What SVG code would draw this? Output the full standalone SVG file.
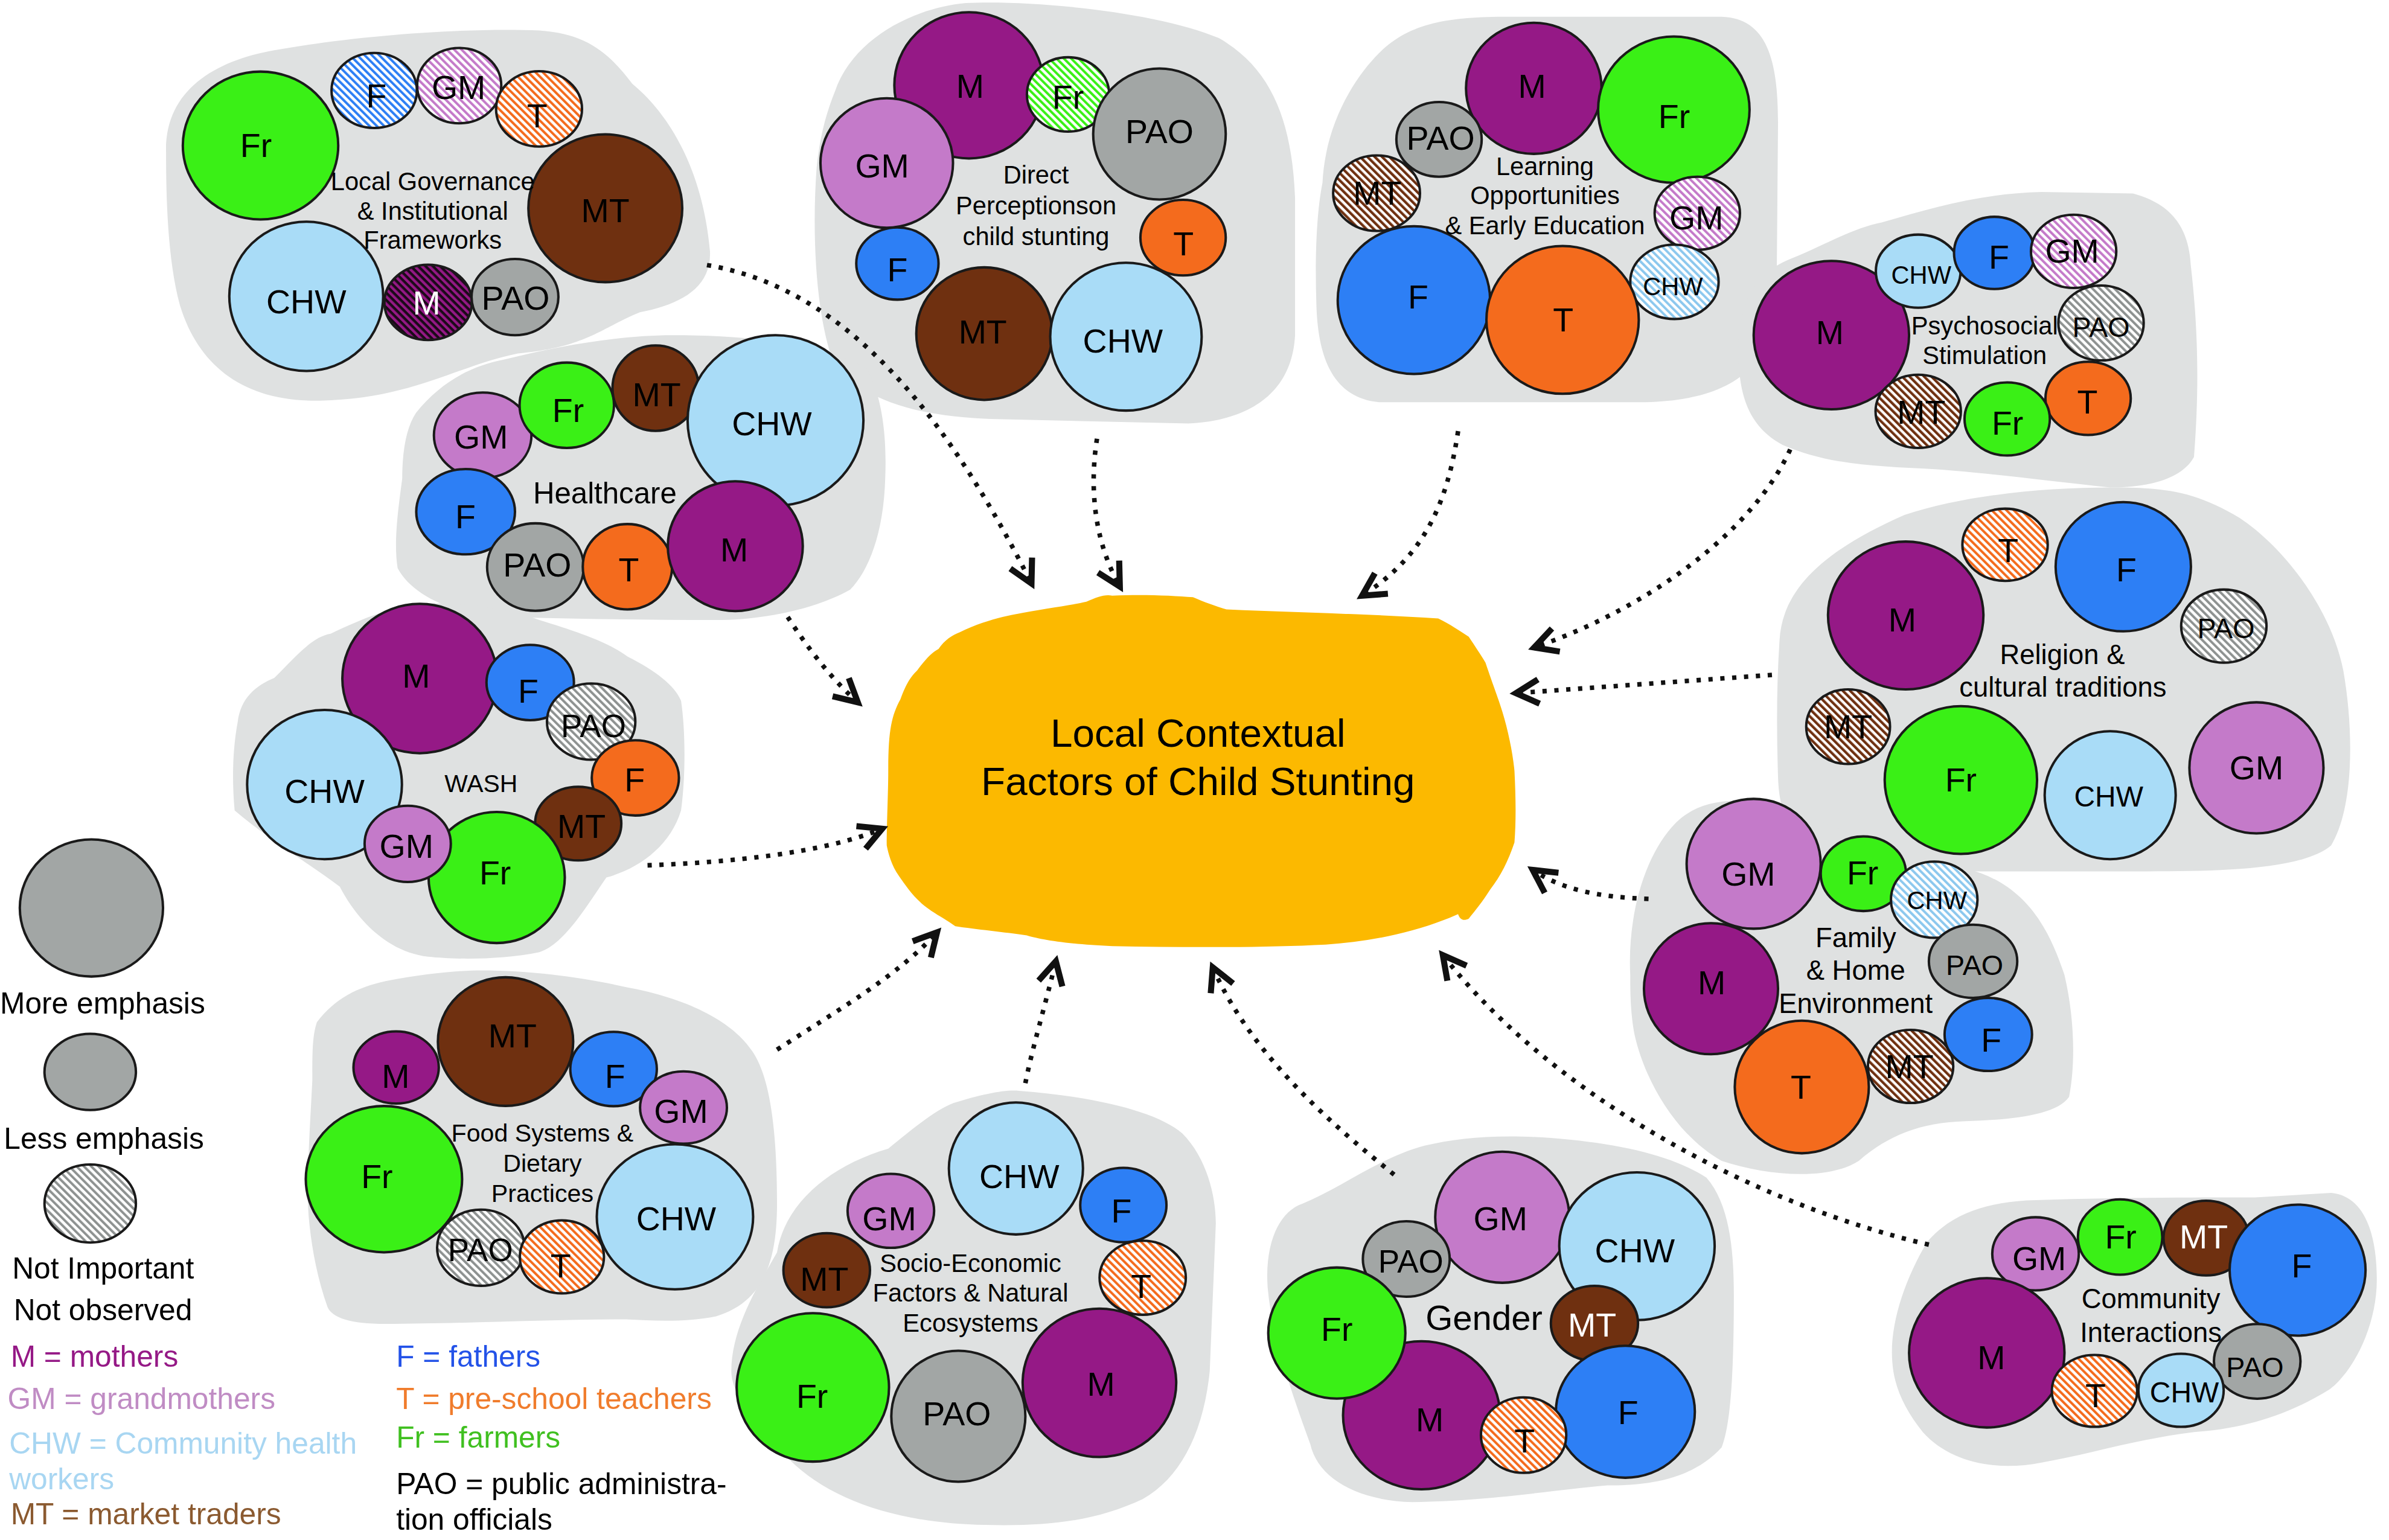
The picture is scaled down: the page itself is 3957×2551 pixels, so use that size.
<svg xmlns="http://www.w3.org/2000/svg" width="3957" height="2551" viewBox="0 0 3957 2551">
<defs>
<style>
.blob{fill:#dfe1e1}
.c{stroke:#1a1a1a;stroke-width:1.6}
.M{fill:#951986}.GM{fill:#c47ac9}.CHW{fill:#a9dcf7}.MT{fill:#6f3010}.F{fill:#2d7ff5}.T{fill:#f46b1d}.Fr{fill:#3af016}.PAO{fill:#a2a6a5}
.hF{fill:url(#pF)}.hGM{fill:url(#pGM)}.hT{fill:url(#pT)}.hPAO{fill:url(#pPAO)}.hMT{fill:url(#pMT)}.hCHW{fill:url(#pCHW)}.hFr{fill:url(#pFr)}.hM{fill:url(#pM)}
text{font-family:"Liberation Sans",Arial,Helvetica,sans-serif}
.l{font-size:22px;text-anchor:middle;dominant-baseline:central;fill:#000}
.s19{font-size:19px}.s18{font-size:18.5px}.s16{font-size:16.5px}.s21{font-size:21px}
.wt{fill:#fff}
.t{font-size:16.5px;text-anchor:middle;dominant-baseline:central;fill:#000}
.t18{font-size:18px}
.conn{fill:none;stroke:#111;stroke-width:3;stroke-dasharray:2.8 5;marker-end:url(#ah)}
.leg{font-size:19.7px}
</style>
<pattern id="pF" width="3.4" height="3.4" patternUnits="userSpaceOnUse" patternTransform="rotate(-45)"><rect width="3.4" height="3.4" fill="#fff"/><rect width="1.6" height="3.4" fill="#2d7ff5"/></pattern>
<pattern id="pGM" width="3.4" height="3.4" patternUnits="userSpaceOnUse" patternTransform="rotate(-45)"><rect width="3.4" height="3.4" fill="#fff"/><rect width="1.6" height="3.4" fill="#c47ac9"/></pattern>
<pattern id="pT" width="3.4" height="3.4" patternUnits="userSpaceOnUse" patternTransform="rotate(-45)"><rect width="3.4" height="3.4" fill="#fff"/><rect width="1.6" height="3.4" fill="#f46b1d"/></pattern>
<pattern id="pPAO" width="3.4" height="3.4" patternUnits="userSpaceOnUse" patternTransform="rotate(-45)"><rect width="3.4" height="3.4" fill="#fff"/><rect width="1.6" height="3.4" fill="#8e9291"/></pattern>
<pattern id="pMT" width="3.4" height="3.4" patternUnits="userSpaceOnUse" patternTransform="rotate(-45)"><rect width="3.4" height="3.4" fill="#fff"/><rect width="1.7" height="3.4" fill="#6f3010"/></pattern>
<pattern id="pCHW" width="3.4" height="3.4" patternUnits="userSpaceOnUse" patternTransform="rotate(-45)"><rect width="3.4" height="3.4" fill="#fff"/><rect width="1.6" height="3.4" fill="#8cc8ee"/></pattern>
<pattern id="pFr" width="3.4" height="3.4" patternUnits="userSpaceOnUse" patternTransform="rotate(-45)"><rect width="3.4" height="3.4" fill="#fff"/><rect width="1.6" height="3.4" fill="#3af016"/></pattern>
<pattern id="pM" width="3.4" height="3.4" patternUnits="userSpaceOnUse" patternTransform="rotate(-45)"><rect width="3.4" height="3.4" fill="#1a0a18"/><rect width="1.7" height="3.4" fill="#951986"/></pattern>
<marker id="ah" viewBox="-22 -14 28 28" markerWidth="28" markerHeight="28" refX="0" refY="0" orient="auto" markerUnits="userSpaceOnUse" overflow="visible"><path d="M -15 -8 L 0 0 L -15 8" fill="none" stroke="#111" stroke-width="4"/></marker>
</defs>
<rect width="3957" height="2551" fill="#fff"/>
<g transform="scale(2.5236)">

<g id="node-governance">
<path class="blob" d="M 109 100 C 108 60 140 40 180 33 C 230 24 300 18 354 20 C 385 22 400 35 415 55 C 445 80 462 120 466 165 C 467 190 445 200 420 205 C 395 215 385 228 340 232 C 300 240 270 262 210 263 C 160 264 130 240 118 200 C 110 170 109 130 109 100 Z"/>
<ellipse class="c Fr" cx="171" cy="95.5" rx="51" ry="48.5"/>
<ellipse class="c hF" cx="245.6" cy="59.4" rx="28" ry="24.6"/>
<ellipse class="c hGM" cx="301.4" cy="56.2" rx="27.6" ry="24.7"/>
<ellipse class="c hT" cx="353.8" cy="71.5" rx="28.2" ry="24.7"/>
<ellipse class="c MT" cx="397.3" cy="136.7" rx="50.5" ry="48.5"/>
<ellipse class="c CHW" cx="201" cy="194.5" rx="50.5" ry="49"/>
<ellipse class="c hM" cx="281" cy="198.5" rx="28.7" ry="24.7"/>
<ellipse class="c PAO" cx="338" cy="195" rx="28.5" ry="25"/>
<text class="l" x="168" y="95.4">Fr</text>
<text class="l" x="247" y="63">F</text>
<text class="l" x="301" y="57.4">GM</text>
<text class="l" x="352.6" y="76">T</text>
<text class="l" x="397.3" y="138.3">MT</text>
<text class="l" x="201" y="198">CHW</text>
<text class="l wt" x="280" y="199">M</text>
<text class="l" x="338.4" y="195.7">PAO</text>
<text class="t" x="284" y="118.9">Local Governance</text>
<text class="t" x="284" y="138.3">&amp; Institutional</text>
<text class="t" x="284" y="157.7">Frameworks</text>
</g>

<g id="node-direct">
<path class="blob" d="M 548 60 C 560 25 600 5 634 2 C 680 0 760 8 800 25 C 835 45 848 80 850 130 L 850 220 C 848 258 820 276 780 278 L 650 275 C 600 273 560 262 545 232 C 535 200 533 150 536 110 C 538 90 542 75 548 60 Z"/>
<ellipse class="c M" cx="636" cy="56" rx="49" ry="48"/>
<ellipse class="c hFr" cx="701" cy="62" rx="27" ry="24.4"/>
<ellipse class="c PAO" cx="761" cy="88" rx="43.5" ry="43"/>
<ellipse class="c GM" cx="582" cy="107" rx="43.5" ry="42.5"/>
<ellipse class="c F" cx="589" cy="173" rx="27" ry="23.7"/>
<ellipse class="c T" cx="776.5" cy="156" rx="28" ry="24.8"/>
<ellipse class="c MT" cx="646" cy="219" rx="44.6" ry="43.5"/>
<ellipse class="c CHW" cx="739" cy="221" rx="49.7" ry="48.5"/>
<text class="l" x="636.7" y="56.6">M</text>
<text class="l" x="701" y="63.7">Fr</text>
<text class="l" x="761" y="86.3">PAO</text>
<text class="l" x="579" y="109">GM</text>
<text class="l" x="589" y="177">F</text>
<text class="l" x="776.7" y="160">T</text>
<text class="l" x="645" y="218">MT</text>
<text class="l" x="737" y="224">CHW</text>
<text class="t" x="680" y="114.6">Direct</text>
<text class="t" x="680" y="135">Perceptionson</text>
<text class="t" x="680" y="155">child stunting</text>
</g>

<g id="node-learning">
<path class="blob" d="M 868 120 C 870 80 890 50 905 35 C 925 15 950 11 990 11 L 1130 11 C 1160 12 1167 40 1167 80 L 1166 200 C 1163 245 1130 263 1080 264 L 905 264 C 875 261 865 235 864 200 C 863 170 864 140 868 120 Z"/>
<ellipse class="c M" cx="1006.7" cy="58" rx="44.5" ry="43"/>
<ellipse class="c Fr" cx="1098.6" cy="72" rx="49.7" ry="48"/>
<ellipse class="c PAO" cx="944.5" cy="91.5" rx="28" ry="24.5"/>
<ellipse class="c hMT" cx="903.5" cy="126.8" rx="28.5" ry="24.8"/>
<ellipse class="c hGM" cx="1114" cy="140" rx="28" ry="24"/>
<ellipse class="c hCHW" cx="1099" cy="185" rx="29" ry="24.4"/>
<ellipse class="c F" cx="928" cy="197" rx="50" ry="48.5"/>
<ellipse class="c T" cx="1025.6" cy="210" rx="50" ry="48.5"/>
<text class="l" x="1005.6" y="56.6">M</text>
<text class="l" x="1098.8" y="76.4">Fr</text>
<text class="l" x="945.5" y="90.6">PAO</text>
<text class="l" x="904" y="126.7">MT</text>
<text class="l" x="1113.4" y="143">GM</text>
<text class="l s16" x="1098" y="188">CHW</text>
<text class="l" x="930.8" y="195">F</text>
<text class="l" x="1026" y="210">T</text>
<text class="t" x="1014" y="109">Learning</text>
<text class="t" x="1014" y="128">Opportunities</text>
<text class="t" x="1014" y="147.9">&amp; Early Education</text>
</g>

<g id="node-psychosocial">
<path class="blob" d="M 1141 230 C 1141 195 1155 178 1175 170 C 1200 160 1215 150 1235 146 C 1270 136 1300 127 1340 126 L 1400 127 C 1430 135 1437 155 1438 175 C 1442 210 1444 250 1440 300 C 1430 318 1400 320 1385 320 C 1340 315 1300 310 1270 308 C 1230 306 1200 305 1170 292 C 1148 280 1141 260 1141 230 Z"/>
<ellipse class="c M" cx="1202" cy="220" rx="51" ry="48.7"/>
<ellipse class="c CHW" cx="1259" cy="178" rx="27.8" ry="24"/>
<ellipse class="c F" cx="1309" cy="166" rx="26.5" ry="23.7"/>
<ellipse class="c hGM" cx="1361" cy="165" rx="28" ry="24"/>
<ellipse class="c hPAO" cx="1379" cy="212" rx="28" ry="24.6"/>
<ellipse class="c T" cx="1370.5" cy="261.5" rx="28" ry="24"/>
<ellipse class="c Fr" cx="1317.4" cy="275" rx="28" ry="24"/>
<ellipse class="c hMT" cx="1259" cy="270" rx="28" ry="24"/>
<text class="l" x="1201" y="218.4">M</text>
<text class="l s16" x="1261" y="180.5">CHW</text>
<text class="l" x="1312" y="169">F</text>
<text class="l" x="1360" y="165">GM</text>
<text class="l s18" x="1379" y="214.6">PAO</text>
<text class="l" x="1370" y="264">T</text>
<text class="l" x="1317.6" y="277.6">Fr</text>
<text class="l" x="1261" y="270.6">MT</text>
<text class="t" x="1302.6" y="213.6">Psychosocial</text>
<text class="t" x="1302.6" y="233.3">Stimulation</text>
</g>

<g id="node-religion">
<path class="blob" d="M 1168 420 C 1170 385 1200 360 1250 338 C 1290 325 1340 320 1386 320 C 1420 320 1440 322 1470 340 C 1500 360 1530 400 1538 440 C 1545 480 1545 530 1530 555 C 1510 572 1450 572 1400 572 L 1230 572 C 1190 570 1168 550 1167 510 C 1166 480 1166 450 1168 420 Z"/>
<ellipse class="c hT" cx="1316" cy="357.6" rx="28" ry="23.7"/>
<ellipse class="c F" cx="1393.6" cy="372" rx="44.4" ry="42.4"/>
<ellipse class="c hPAO" cx="1459.6" cy="411" rx="28" ry="24"/>
<ellipse class="c M" cx="1250.8" cy="404" rx="51" ry="48.5"/>
<ellipse class="c hMT" cx="1213" cy="477" rx="27.5" ry="24.5"/>
<ellipse class="c Fr" cx="1287" cy="512" rx="50" ry="48.5"/>
<ellipse class="c CHW" cx="1385" cy="522" rx="43" ry="42"/>
<ellipse class="c GM" cx="1481" cy="504" rx="44" ry="43"/>
<text class="l" x="1318" y="361.4">T</text>
<text class="l" x="1395.6" y="374">F</text>
<text class="l s18" x="1461" y="412.7">PAO</text>
<text class="l" x="1248.6" y="406.8">M</text>
<text class="l" x="1213" y="477">MT</text>
<text class="l" x="1287" y="512">Fr</text>
<text class="l s19" x="1384" y="523">CHW</text>
<text class="l" x="1481" y="504">GM</text>
<text class="t t18" x="1353.6" y="429.7">Religion &amp;</text>
<text class="t t18" x="1354" y="451">cultural traditions</text>
</g>

<g id="node-family">
<path class="blob" d="M 1070 640 C 1068 600 1080 560 1100 540 C 1115 525 1140 522 1170 530 C 1200 540 1240 560 1290 570 C 1330 580 1345 610 1355 640 C 1362 670 1362 700 1358 720 C 1350 732 1320 735 1290 736 C 1260 737 1240 745 1220 762 C 1200 775 1160 772 1130 762 C 1100 745 1080 710 1073 680 C 1070 665 1070 650 1070 640 Z"/>
<ellipse class="c GM" cx="1151" cy="567" rx="44" ry="42.6"/>
<ellipse class="c Fr" cx="1223" cy="573.5" rx="28" ry="24.5"/>
<ellipse class="c hCHW" cx="1269.5" cy="590.6" rx="28.4" ry="25"/>
<ellipse class="c PAO" cx="1295" cy="631" rx="29" ry="24"/>
<ellipse class="c M" cx="1123" cy="649" rx="44" ry="43"/>
<ellipse class="c T" cx="1182.6" cy="713.5" rx="44" ry="43.5"/>
<ellipse class="c hMT" cx="1254" cy="700" rx="28" ry="24"/>
<ellipse class="c F" cx="1305" cy="679" rx="28.7" ry="24"/>
<text class="l" x="1147.5" y="573.6">GM</text>
<text class="l" x="1222.5" y="573">Fr</text>
<text class="l s16" x="1271.3" y="590.9">CHW</text>
<text class="l s18" x="1296" y="633.6">PAO</text>
<text class="l" x="1123.4" y="645.3">M</text>
<text class="l" x="1182" y="713.5">T</text>
<text class="l" x="1253.2" y="700">MT</text>
<text class="l" x="1306.9" y="682.6">F</text>
<text class="t t18" x="1218" y="615.6">Family</text>
<text class="t t18" x="1218" y="636.8">&amp; Home</text>
<text class="t t18" x="1218" y="658.9">Environment</text>
</g>

<g id="node-community">
<path class="blob" d="M 1242 894 C 1240 870 1250 840 1265 815 C 1280 798 1300 790 1330 788 C 1380 786 1440 786 1480 786 L 1530 783 C 1552 785 1560 810 1560 840 C 1560 870 1545 900 1529 912 C 1500 930 1470 938 1440 940 C 1400 945 1370 955 1340 960 C 1310 966 1280 960 1262 940 C 1250 925 1243 910 1242 894 Z"/>
<ellipse class="c GM" cx="1336" cy="823" rx="28.4" ry="24"/>
<ellipse class="c Fr" cx="1391.5" cy="812" rx="27.7" ry="24.7"/>
<ellipse class="c MT" cx="1448" cy="812.7" rx="28" ry="24.5"/>
<ellipse class="c F" cx="1508" cy="833.7" rx="44.6" ry="43"/>
<ellipse class="c M" cx="1304" cy="888" rx="51" ry="49"/>
<ellipse class="c PAO" cx="1481.5" cy="893.6" rx="28.4" ry="24.5"/>
<ellipse class="c hT" cx="1374.7" cy="913" rx="28" ry="23.6"/>
<ellipse class="c CHW" cx="1431.5" cy="912.6" rx="28" ry="24"/>
<text class="l" x="1338.4" y="826.3">GM</text>
<text class="l" x="1391.9" y="812">Fr</text>
<text class="l wt" x="1446.4" y="812">MT</text>
<text class="l" x="1510.7" y="831">F</text>
<text class="l" x="1307" y="891">M</text>
<text class="l s18" x="1480" y="897.4">PAO</text>
<text class="l" x="1375.4" y="916.2">T</text>
<text class="l s19" x="1433.7" y="913.8">CHW</text>
<text class="t t18" x="1411.7" y="852.5">Community</text>
<text class="t t18" x="1411.7" y="874.6">Interactions</text>
</g>

<g id="node-gender">
<path class="blob" d="M 832 845 C 830 815 840 795 855 790 C 880 780 905 760 935 752 C 960 746 990 744 1030 748 C 1070 752 1100 760 1120 773 C 1135 790 1138 820 1138 850 C 1138 900 1136 935 1130 950 C 1110 972 1080 975 1055 975 C 1020 978 980 985 927 986 C 890 985 865 970 860 948 C 850 920 835 880 832 845 Z"/>
<ellipse class="c GM" cx="986" cy="799" rx="44" ry="43"/>
<ellipse class="c CHW" cx="1074.4" cy="818" rx="51" ry="48.5"/>
<ellipse class="c PAO" cx="923" cy="826.4" rx="28.5" ry="24.8"/>
<ellipse class="c M" cx="933" cy="929" rx="51.5" ry="48.6"/>
<ellipse class="c Fr" cx="877.4" cy="875" rx="45" ry="43"/>
<ellipse class="c MT" cx="1046.5" cy="868.6" rx="28.6" ry="24.6"/>
<ellipse class="c F" cx="1066.8" cy="926.7" rx="45.6" ry="43.3"/>
<ellipse class="c hT" cx="1000" cy="942" rx="28" ry="24.8"/>
<text class="l" x="984.8" y="800">GM</text>
<text class="l" x="1073" y="821">CHW</text>
<text class="l s21" x="926" y="828">PAO</text>
<text class="l" x="877.4" y="872.7">Fr</text>
<text class="l wt" x="1045" y="869.8">MT</text>
<text class="l" x="938.4" y="932">M</text>
<text class="l" x="1000.6" y="945.7">T</text>
<text class="l" x="1068.6" y="927.3">F</text>
<text class="t" style="font-size:23px" x="974" y="865">Gender</text>
</g>

<g id="node-socioeconomic">
<path class="blob" d="M 510 822 C 515 790 545 765 583 754 C 600 740 615 728 626 724 C 645 718 660 715 669 716 C 720 720 760 730 776 744 C 792 760 798 785 798 803 L 794 900 C 790 940 775 970 750 984 C 720 998 690 1002 647 1001 C 590 1000 545 985 518 958 C 495 935 480 915 480 900 C 480 870 500 840 510 822 Z"/>
<ellipse class="c CHW" cx="666.8" cy="767" rx="44" ry="43.3"/>
<ellipse class="c GM" cx="584.7" cy="794.8" rx="28.4" ry="24.3"/>
<ellipse class="c F" cx="737.3" cy="791" rx="28.3" ry="24.4"/>
<ellipse class="c MT" cx="542.6" cy="833.8" rx="28.4" ry="24.3"/>
<ellipse class="c hT" cx="750" cy="838.7" rx="28.3" ry="24.3"/>
<ellipse class="c Fr" cx="533.5" cy="910.7" rx="50" ry="48.7"/>
<ellipse class="c PAO" cx="629" cy="929.6" rx="44" ry="43"/>
<ellipse class="c M" cx="721.6" cy="907.7" rx="50.4" ry="48.7"/>
<text class="l" x="669" y="772.5">CHW</text>
<text class="l" x="583.7" y="800">GM</text>
<text class="l" x="736" y="795">F</text>
<text class="l" x="541" y="839.7">MT</text>
<text class="l" x="749" y="844.5">T</text>
<text class="l" x="533" y="916.5">Fr</text>
<text class="l" x="628" y="928">PAO</text>
<text class="l" x="722.6" y="908.7">M</text>
<text class="t" x="637" y="829">Socio-Economic</text>
<text class="t" x="637" y="848.4">Factors &amp; Natural</text>
<text class="t" x="637" y="868.4">Ecosystems</text>
</g>

<g id="node-food">
<path class="blob" d="M 205 709 C 205 690 205 680 208 671 C 220 655 235 648 253 644 C 280 639 300 637 316 637 C 350 637 385 642 411 648 C 450 655 480 670 493 689 C 505 705 510 740 510 790 C 510 830 500 855 470 864 C 450 868 430 867 411 866 C 360 866 300 869 253 869 C 230 869 218 865 215 858 C 205 830 202 800 202 784 C 202 760 204 730 205 709 Z"/>
<ellipse class="c MT" cx="331.8" cy="683.7" rx="44.4" ry="42.2"/>
<ellipse class="c M" cx="260" cy="700.7" rx="28" ry="23.7"/>
<ellipse class="c F" cx="402.7" cy="701.7" rx="28.4" ry="24.4"/>
<ellipse class="c GM" cx="448.6" cy="727" rx="28.5" ry="23.7"/>
<ellipse class="c Fr" cx="252" cy="774" rx="51.3" ry="48"/>
<ellipse class="c CHW" cx="443" cy="798.7" rx="51.3" ry="47.6"/>
<ellipse class="c hPAO" cx="315.6" cy="819" rx="28.7" ry="25"/>
<ellipse class="c hT" cx="368.8" cy="825" rx="27.6" ry="24"/>
<text class="l" x="336.4" y="680">MT</text>
<text class="l" x="259.7" y="706.7">M</text>
<text class="l" x="403.7" y="706.7">F</text>
<text class="l" x="447" y="729.7">GM</text>
<text class="l" x="247.4" y="772.4">Fr</text>
<text class="l" x="443.8" y="800">CHW</text>
<text class="l s21" x="315.3" y="820.6">PAO</text>
<text class="l" x="368" y="831">T</text>
<text class="t" style="font-size:16.3px" x="356" y="743.6">Food Systems &amp;</text>
<text class="t" style="font-size:16.3px" x="356" y="763.6">Dietary</text>
<text class="t" style="font-size:16.3px" x="356" y="783.6">Practices</text>
</g>

<g id="node-healthcare">
<path class="blob" d="M 264 314 C 264 295 267 280 273 271 C 290 250 310 240 331 236 C 370 226 410 220 441 220 C 490 220 540 225 569 242 C 580 262 582 290 581 314 C 580 350 570 375 558 387 C 535 400 500 407 470 407 C 420 407 370 406 325 405 C 295 402 270 390 261 373 C 258 355 262 330 264 314 Z"/>
<ellipse class="c GM" cx="316.8" cy="285.7" rx="32" ry="28"/>
<ellipse class="c Fr" cx="372" cy="266" rx="31" ry="28"/>
<ellipse class="c MT" cx="430.3" cy="254.8" rx="28.3" ry="28"/>
<ellipse class="c CHW" cx="509" cy="276" rx="57.7" ry="56"/>
<ellipse class="c F" cx="305.6" cy="335.9" rx="32.4" ry="28"/>
<ellipse class="c PAO" cx="351.4" cy="372.2" rx="31.7" ry="28.7"/>
<ellipse class="c T" cx="411.8" cy="372" rx="29.3" ry="28"/>
<ellipse class="c M" cx="482.6" cy="358.5" rx="44.3" ry="42.6"/>
<text class="l" x="315.7" y="286.8">GM</text>
<text class="l" x="372.9" y="269.3">Fr</text>
<text class="l" x="431" y="259">MT</text>
<text class="l" x="506.6" y="278">CHW</text>
<text class="l" x="305.5" y="339">F</text>
<text class="l" x="352.6" y="371">PAO</text>
<text class="l" x="412.7" y="374">T</text>
<text class="l" x="481.9" y="360.9">M</text>
<text class="t" style="font-size:19.5px" x="397" y="323.7">Healthcare</text>
</g>

<g id="node-wash">
<path class="blob" d="M 156 474 C 158 458 168 450 180 445 C 195 430 205 418 217 416 C 240 405 260 397 281 396 C 310 396 335 400 354 407 C 380 415 400 422 412 431 C 430 440 443 450 447 460 C 450 480 450 510 447 532 C 440 555 420 570 398 576 C 385 595 370 620 354 625 C 330 630 300 630 281 628 C 255 625 235 605 223 582 C 200 565 175 550 154 532 C 152 510 153 490 156 474 Z"/>
<ellipse class="c M" cx="275.5" cy="445.4" rx="50.8" ry="49"/>
<ellipse class="c F" cx="348" cy="448" rx="28.7" ry="24.7"/>
<ellipse class="c hPAO" cx="388" cy="473.7" rx="29" ry="25"/>
<ellipse class="c T" cx="417" cy="510.6" rx="28.6" ry="24.7"/>
<ellipse class="c MT" cx="379.5" cy="540.6" rx="28.3" ry="24.2"/>
<ellipse class="c CHW" cx="213" cy="515" rx="50.8" ry="49"/>
<ellipse class="c Fr" cx="326" cy="576" rx="44.7" ry="43"/>
<ellipse class="c GM" cx="267.6" cy="553.9" rx="28.3" ry="25"/>
<text class="l" x="273.2" y="443.7">M</text>
<text class="l" x="346.7" y="453.9">F</text>
<text class="l s21" x="389.5" y="476.5">PAO</text>
<text class="l" x="416.5" y="512">F</text>
<text class="l" x="381.6" y="542.5">MT</text>
<text class="l" x="213" y="519.3">CHW</text>
<text class="l" x="266.8" y="555.6">GM</text>
<text class="l" x="325" y="573">Fr</text>
<text class="t" style="font-size:16.2px" x="315.7" y="514.4">WASH</text>
</g>

<g id="node-center">
<path fill="#fcb900" d="M 583 506 C 583 480 585 470 591 459 C 595 448 598 444 602 440 C 608 432 612 428 616 426 C 620 420 625 417 630 415 C 640 410 650 407 658 405 C 680 400 700 398 713 395 C 720 392 725 390 730 391 C 750 390 770 391 783 392 C 790 395 798 398 805 400 C 850 402 900 403 944 406 C 952 410 958 414 964 418 C 968 424 972 430 975 435 C 980 450 984 460 986 467 C 990 480 993 495 994 506 C 995 525 995 540 994 553 C 990 565 985 575 978 584 C 973 592 968 598 964 603 C 960 605 958 603 957 600 C 930 612 900 618 870 620 C 830 622 780 622 730 621 C 700 620 680 616 674 614 C 660 612 640 610 627 608 C 620 603 614 600 610 597 C 600 590 595 582 590 575 C 585 568 583 560 582 555 C 582 540 583 520 583 506 Z"/>
<text x="786.3" y="490" text-anchor="middle" style="font-size:26px">Local Contextual</text>
<text x="786.3" y="521.7" text-anchor="middle" style="font-size:26px">Factors of Child Stunting</text>
</g>

<g id="connectors">
<path class="conn" d="M 464 174 C 560 190 625 280 677 383"/>
<path class="conn" d="M 720 288 C 715 320 718 355 735 385"/>
<path class="conn" d="M 957 283 C 950 330 935 365 894 391"/>
<path class="conn" d="M 1175 295 C 1150 350 1080 400 1007 425"/>
<path class="conn" d="M 1163 443 L 995 455"/>
<path class="conn" d="M 1082 590 C 1050 589 1025 584 1006 571"/>
<path class="conn" d="M 1266 817 C 1150 790 1020 720 947 627"/>
<path class="conn" d="M 915 771 C 870 735 820 690 796 635"/>
<path class="conn" d="M 673 711 C 677 690 686 660 693 631"/>
<path class="conn" d="M 510 689 C 550 663 590 640 615 612"/>
<path class="conn" d="M 425 568 C 480 566 540 560 579 544"/>
<path class="conn" d="M 517 405 C 530 425 545 445 563 461"/>
</g>

<g id="legend">
<ellipse class="c PAO" cx="60" cy="596" rx="47" ry="45"/>
<ellipse class="c PAO" cx="59.2" cy="703.6" rx="30" ry="25"/>
<ellipse class="c hPAO" cx="59.2" cy="790" rx="30" ry="25.6"/>
<text class="leg" x="0" y="665.5">More emphasis</text>
<text class="leg" x="2.5" y="754">Less emphasis</text>
<text class="leg" x="8" y="839.2">Not Important</text>
<text class="leg" x="9" y="866.7">Not observed</text>
<text class="leg" x="7" y="897" fill="#951986">M = mothers</text>
<text class="leg" x="5" y="925" fill="#c08cc4">GM = grandmothers</text>
<text class="leg" x="6" y="954.3" fill="#a8d6f2">CHW = Community health</text>
<text class="leg" x="6" y="977.7" fill="#a8d6f2">workers</text>
<text class="leg" x="7" y="1000.6" fill="#8b5a30">MT = market traders</text>
<text class="leg" x="260" y="897" fill="#2352e8">F = fathers</text>
<text class="leg" x="260" y="925" fill="#f07c2c">T = pre-school teachers</text>
<text class="leg" x="260" y="950.2" fill="#40c020">Fr = farmers</text>
<text class="leg" x="260" y="980.6">PAO = public administra-</text>
<text class="leg" x="260" y="1004.3">tion officials</text>
</g>

</g>
</svg>
